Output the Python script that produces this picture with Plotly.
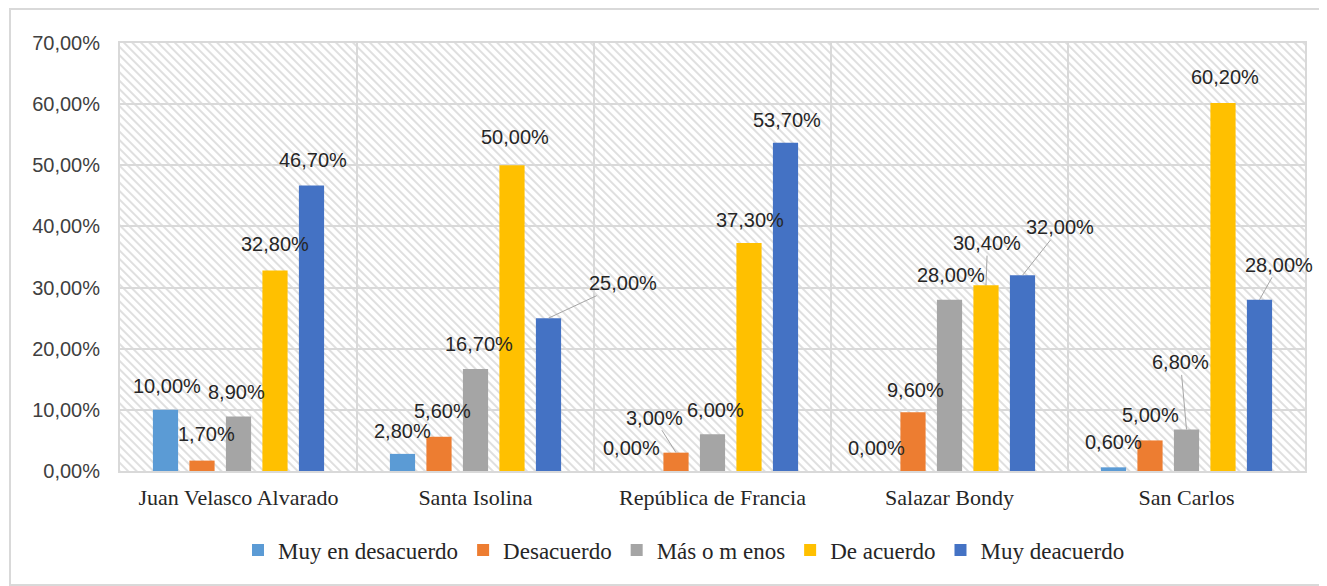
import base64
import plotly.graph_objects as go

# ---------------- data ----------------
categories = ["Juan Velasco Alvarado", "Santa Isolina", "República de Francia",
              "Salazar Bondy", "San Carlos"]
series_names = ["Muy en desacuerdo", "Desacuerdo", "Más o m enos", "De acuerdo", "Muy deacuerdo"]
muy_en_desacuerdo = [10.0, 2.8, 0.0, 0.0, 0.6]
desacuerdo = [1.7, 5.6, 3.0, 9.6, 5.0]
mas_o_menos = [8.9, 16.7, 6.0, 28.0, 6.8]
de_acuerdo = [32.8, 50.0, 37.3, 30.4, 60.2]
muy_deacuerdo = [46.7, 25.0, 53.7, 32.0, 28.0]
series_values = [muy_en_desacuerdo, desacuerdo, mas_o_menos, de_acuerdo, muy_deacuerdo]
y_ticks = [0, 10, 20, 30, 40, 50, 60, 70]

# ---------------- style ----------------
colors = ["#5B9BD5", "#ED7D31", "#A5A5A5", "#FFC000", "#4472C4"]
SERIF = "Liberation Serif"
SANS = "Liberation Sans"
TXT = "#262626"
TICK = "#404040"

# label offsets (px) relative to bar top centre: (dx, dy, leader)
label_offsets = [
    [(1, -24, False), (0, -23, False), (-8, -23, False), (0, -23, False), (0, -25, False)],
    [(4, -27, False), (3, -26, False), (-22, -35, True), (2, -22, False), (0, -25, False)],
    [(-2, -25, False), (3, -25, False), (3, -24, False), (1.5, -25, False), (-6, -67, True)],
    [(0, -26, False), (3, -28, False), (1, -23, False), (1.5, -42, True), (2.5, -26, False)],
    [(2, -25, False), (75, -35, True), (2, -23, False), (38, -48, True), (19.5, -35, True)],
]

# page body has an 8px margin: figure is laid out so the plot lands on the reference pixels
OFF = 8
W, H = 1327 - OFF, 586 - OFF
L, T = 120 - OFF, 43 - OFF
R = 1327 - 1305
B = 586 - 471
PW, PH = W - L - R, H - T - B
bargap = 0.23
bargroupgap = 0.31

fig = go.Figure()
for name, vals, col in zip(series_names, series_values, colors):
    fig.add_trace(go.Bar(
        name=name, x=categories, y=[v / 100 for v in vals],
        marker=dict(color=col, line=dict(width=0)),
        hoverinfo="skip",
    ))

cat_px = PW / len(categories)
n = len(series_values)
slot = cat_px * (1 - bargap) / n
annotations = []
for si, vals in enumerate(series_values):
    slot_off = (si - (n - 1) / 2) * slot
    for ci, v in enumerate(vals):
        dx, dy, leader = label_offsets[si][ci]
        text = f"{v:.2f}".replace(".", ",") + "%"
        common = dict(x=categories[ci], y=v / 100, xref="x", yref="y", text=text,
                      font=dict(family=SANS, size=20, color=TXT))
        if leader:
            annotations.append(dict(
                showarrow=True, arrowhead=0, arrowwidth=1,
                arrowcolor="#a6a6a6", ax=dx, ay=dy, standoff=0,
                xshift=slot_off, **common))
        else:
            annotations.append(dict(
                showarrow=False, xshift=slot_off + dx, yshift=-dy, **common))

# hatched plot-area background
svg = (f'<svg xmlns="http://www.w3.org/2000/svg" width="{PW}" height="{PH}">'
       '<defs><pattern id="p" width="6" height="6" patternUnits="userSpaceOnUse" '
       'patternTransform="rotate(-45)"><line x1="3" y1="0" x2="3" y2="6" '
       'stroke="#d2d2d2" stroke-width="1.4"/></pattern></defs>'
       '<rect width="100%" height="100%" fill="white"/>'
       '<rect width="100%" height="100%" fill="url(#p)"/></svg>')
src = "data:image/svg+xml;base64," + base64.b64encode(svg.encode()).decode()

px2x = lambda px: (px - OFF - L) / PW
py2y = lambda py: (H - B - (py - OFF)) / PH

fig.update_layout(
    width=W, height=H,
    margin=dict(l=L, r=R, t=T, b=B, pad=0),
    paper_bgcolor="white", plot_bgcolor="rgba(0,0,0,0)",
    barmode="group", bargap=bargap, bargroupgap=bargroupgap,
    separators=",.",
    font=dict(family=SERIF, size=20, color=TXT),
    showlegend=True,
    legend=dict(orientation="h", x=px2x(684), xanchor="center", y=py2y(550), yanchor="middle",
                font=dict(family=SERIF, size=23, color=TXT), traceorder="normal",
                bgcolor="rgba(0,0,0,0)", itemwidth=30),
    images=[dict(source=src, xref="paper", yref="paper", x=0, y=1, sizex=1, sizey=1,
                 xanchor="left", yanchor="top", sizing="stretch", layer="below")],
    shapes=[dict(type="rect", xref="paper", yref="paper",
                 x0=px2x(10), x1=px2x(1325), y0=py2y(585), y1=py2y(9),
                 line=dict(color="#d9d9d9", width=2), fillcolor="rgba(0,0,0,0)", layer="below")],
    annotations=annotations,
)
fig.update_xaxes(
    type="category", range=[-0.5, len(categories) - 0.5], autorange=False,
    tickson="boundaries", showgrid=True, gridcolor="#d9d9d9", gridwidth=2,
    showline=True, linecolor="#d9d9d9", linewidth=2, mirror=True, ticks="",
    ticklabelstandoff=6,
    tickfont=dict(family=SERIF, size=22, color=TXT),
)
fig.update_yaxes(
    range=[0, 0.70], tickvals=[t / 100 for t in y_ticks], tickformat=".2%",
    showgrid=True, gridcolor="#d9d9d9", gridwidth=2,
    showline=True, linecolor="#d9d9d9", linewidth=2, mirror=True, ticks="",
    ticklabelstandoff=14, zeroline=False,
    tickfont=dict(family=SANS, size=20, color=TICK),
)

fig.write_html("out.html")
